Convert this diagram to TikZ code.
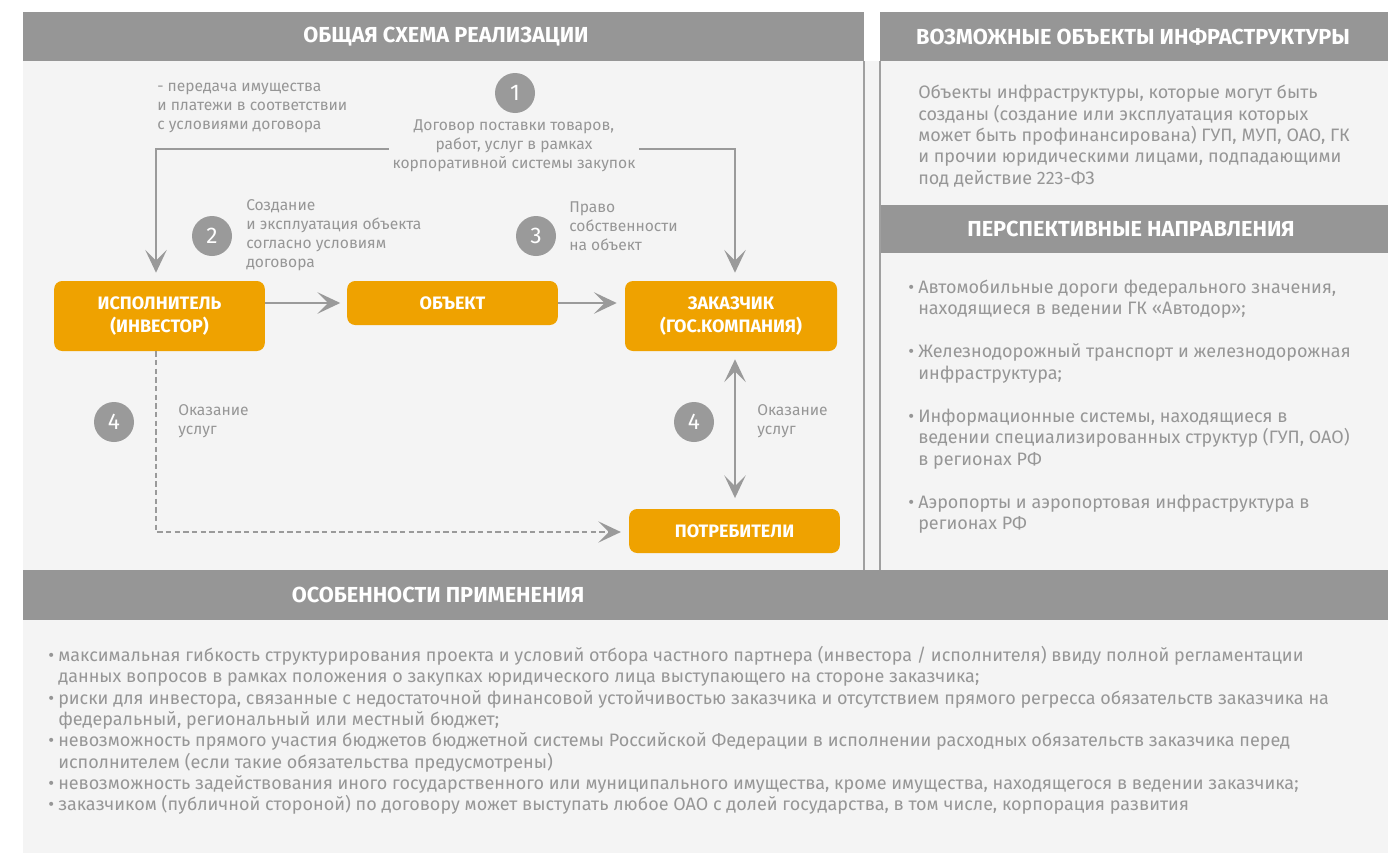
\documentclass[tikz,border=0pt]{standalone}
\usepackage{fontspec}
\setmainfont{Fira Sans}
\usetikzlibrary{arrows.meta}
\definecolor{hdr}{HTML}{969696}
\definecolor{panelbg}{HTML}{F4F4F4}
\definecolor{boxorange}{HTML}{EFA200}
\definecolor{txtgray}{HTML}{969696}
\definecolor{circgray}{HTML}{9A9A9A}
\definecolor{linegray}{HTML}{9A9A9A}
\definecolor{bordergray}{HTML}{A0A0A0}
\tikzset{
  hdrtext/.style={text=white, font=\bfseries\fontsize{16.3}{19}\selectfont, inner sep=0pt},
  orangebox/.style={fill=boxorange, rounded corners=6pt, text=white, align=center,
    font=\bfseries\fontsize{13.5}{17.5}\selectfont, inner sep=0pt},
  numcirc/.style={circle, fill=circgray, text=white, minimum size=30pt, inner sep=0pt,
    font=\fontsize{17}{20}\selectfont},
  smalltext/.style={text=txtgray, font=\fontsize{11.7}{14.25}\selectfont, inner sep=0pt},
  bodytext/.style={text=txtgray, font=\fontsize{13.5}{16}\selectfont, inner sep=0pt, align=left},
  conn/.style={draw=linegray, line width=2.2pt, -{Stealth[length=17pt, width=16pt, inset=8pt]}},
  connboth/.style={draw=linegray, line width=2.2pt, {Stealth[length=17pt, width=16pt, inset=8pt]}-{Stealth[length=17pt, width=16pt, inset=8pt]}},
  dashconn/.style={draw=linegray, line width=1.5pt, dash pattern=on 4pt off 2.5pt, -{Stealth[length=17pt, width=16pt, inset=8pt]}},
}
\newcommand{\bul}{\makebox[7.5pt][l]{•}}
\newcommand{\ind}{\hspace*{7.5pt}}
\begin{document}
\begin{tikzpicture}[x=0.75pt,y=-0.75pt]
\useasboundingbox (0,0) rectangle (1388,853);
\fill[white] (0,0) rectangle (1388,853);
\fill[panelbg] (23,12) rectangle (1388,853);
% header bands
\fill[white] (864,12) rectangle (880,61);
\fill[hdr] (23,12) rectangle (864,61);
\fill[hdr] (880,12) rectangle (1388,61);
\fill[hdr] (880,205) rectangle (1388,253);
\fill[hdr] (23,570) rectangle (1388,620);
% vertical borders
\draw[bordergray, line width=1.5pt] (864,61) -- (864,570);
\draw[bordergray, line width=1.5pt] (880,61) -- (880,570);

\node[hdrtext] (h1) at (446,37) {ОБЩАЯ СХЕМА РЕАЛИЗАЦИИ};
\node[hdrtext] (h2) at (1133,37) {ВОЗМОЖНЫЕ ОБЪЕКТЫ ИНФРАСТРУКТУРЫ};
\node[hdrtext] (h3) at (1131,229) {ПЕРСПЕКТИВНЫЕ НАПРАВЛЕНИЯ};
\node[hdrtext] (h4) at (438,595) {ОСОБЕННОСТИ ПРИМЕНЕНИЯ};

% boxes
\node[orangebox, minimum width=158pt, minimum height=52.5pt] (isp) at (159.5,316) {ИСПОЛНИТЕЛЬ\\(ИНВЕСТОР)};
\node[orangebox, minimum width=158pt, minimum height=33pt] (obj) at (452.5,303) {ОБЪЕКТ};
\node[orangebox, minimum width=159pt, minimum height=52.5pt] (zak) at (731,316) {ЗАКАЗЧИК\\(ГОС.КОМПАНИЯ)};
\node[orangebox, minimum width=158pt, minimum height=33pt] (potr) at (734.5,531) {ПОТРЕБИТЕЛИ};

% connector coordinates
\coordinate (tl) at (156,149);
\coordinate (tr) at (735,149);
\coordinate (dl) at (156,532);

\draw[connboth, shorten <=6pt, shorten >=6pt] (isp.north -| tl) -- (tl) -- (tr) -- (zak.north -| tr);
\draw[conn, shorten >=5pt] (isp.east |- obj.west) -- (obj.west);
\draw[conn, shorten >=6pt] (obj.east) -- (zak.west |- obj.east);
\draw[connboth, shorten <=6pt, shorten >=8pt] (zak.south -| tr) -- (potr.north -| tr);
\draw[dashconn, shorten >=6pt] (isp.south -| dl) -- (dl) -- (potr.west |- dl);

% labels
\node[smalltext, align=left, anchor=west] (pered) at (157,108) {- передача имущества\\и платежи в соответствии\\с условиями договора};
\node[smalltext, align=center, fill=panelbg, inner xsep=3pt, inner ysep=1pt] (dog) at (514,146) {Договор поставки товаров,\\работ, услуг в рамках\\корпоративной системы закупок};
\node[smalltext, align=left, anchor=west] (soz) at (246,235) {Создание\\и эксплуатация объекта\\согласно условиям\\договора};
\node[smalltext, align=left, anchor=west] (prav) at (569,226) {Право\\собственности\\на объект};
\node[smalltext, align=left, anchor=west] (ok1) at (178,421.5) {Оказание\\услуг};
\node[smalltext, align=left, anchor=west] (ok2) at (757,421.5) {Оказание\\услуг};

\node[numcirc] (c1) at (515,93) {1};
\node[numcirc] (c2) at (212,236) {2};
\node[numcirc] (c3) at (536,236) {3};
\node[numcirc] (c4a) at (114,422) {4};
\node[numcirc] (c4b) at (694,422) {4};

% right panel
\node[bodytext, anchor=north west] (obtext) at (918,85) {Объекты инфраструктуры, которые могут быть\\созданы (создание или эксплуатация которых\\может быть профинансирована) ГУП, МУП, ОАО, ГК\\и прочии юридическими лицами, подпадающими\\под действие 223-ФЗ};
\node[bodytext, anchor=north west] (persp) at (908,279.5) {\bul Автомобильные дороги федерального значения,\\\ind находящиеся в ведении ГК «Автодор»;\\[16.5pt]\bul Железнодорожный транспорт и железнодорожная\\\ind инфраструктура;\\[16.5pt]\bul Информационные системы, находящиеся в\\\ind ведении специализированных структур (ГУП, ОАО)\\\ind в регионах РФ\\[16.5pt]\bul Аэропорты и аэропортовая инфраструктура в\\\ind регионах РФ};

% bottom
\node[bodytext, anchor=north west] (osob) at (48,646) {\bul максимальная гибкость структурирования проекта и условий отбора частного партнера (инвестора / исполнителя) ввиду полной регламентации\\\ind данных вопросов в рамках положения о закупках юридического лица выступающего на стороне заказчика;\\\bul риски для инвестора, связанные с недостаточной финансовой устойчивостью заказчика и отсутствием прямого регресса обязательств заказчика на\\\ind федеральный, региональный или местный бюджет;\\\bul невозможность прямого участия бюджетов бюджетной системы Российской Федерации в исполнении расходных обязательств заказчика перед\\\ind исполнителем (если такие обязательства предусмотрены)\\\bul невозможность задействования иного государственного или муниципального имущества, кроме имущества, находящегося в ведении заказчика;\\\bul заказчиком (публичной стороной) по договору может выступать любое ОАО с долей государства, в том числе, корпорация развития};
\end{tikzpicture}
\end{document}
